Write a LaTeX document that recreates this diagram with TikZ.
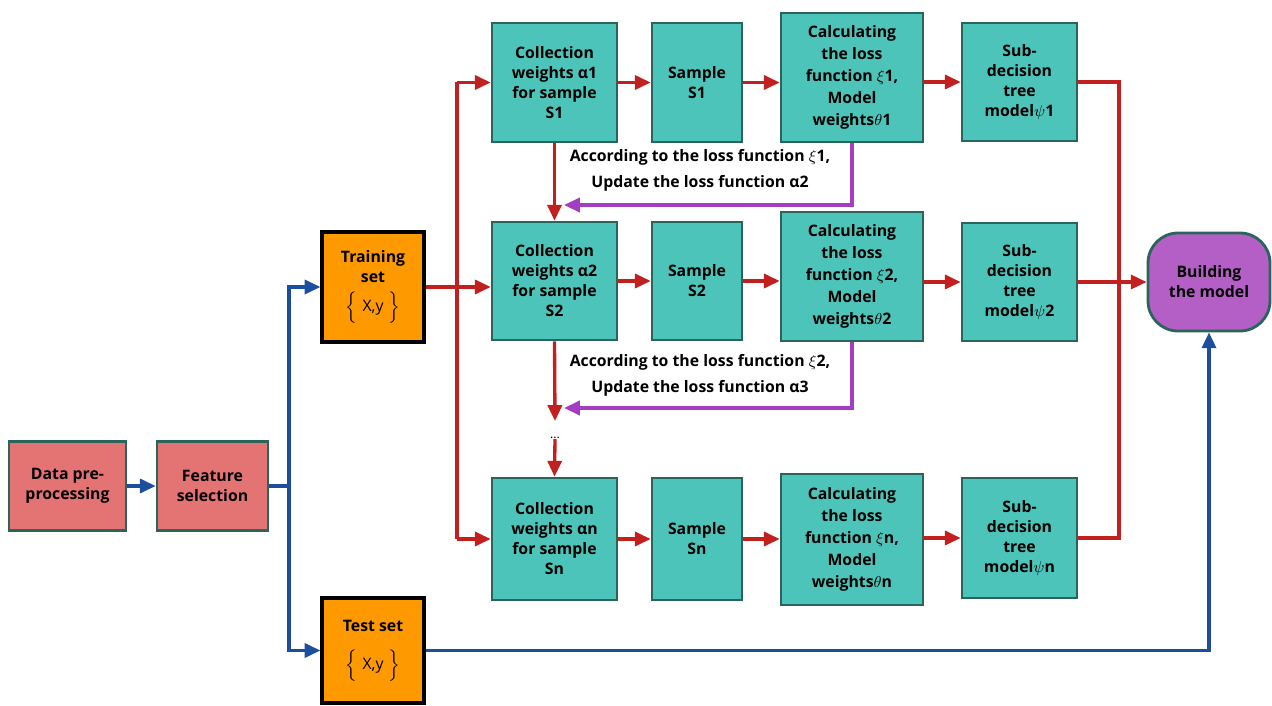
\documentclass[tikz,border=0pt]{standalone}
\usepackage{fontspec}
\setmainfont{Open Sans}
\usetikzlibrary{arrows.meta}
\definecolor{boxteal}{RGB}{77,196,185}
\definecolor{edgeteal}{RGB}{42,100,90}
\definecolor{boxpink}{RGB}{228,116,116}
\definecolor{boxorange}{RGB}{255,153,0}
\definecolor{boxpurple}{RGB}{180,95,198}
\definecolor{linered}{RGB}{194,31,31}
\definecolor{lineblue}{RGB}{28,78,160}
\definecolor{linepurple}{RGB}{164,60,196}
\begin{document}
\begin{tikzpicture}[x=0.02cm,y=-0.02cm,
    font=\fontsize{9}{11.4}\selectfont\bfseries,
    every node/.style={align=center,inner sep=0pt},
    stage/.style={draw=edgeteal,fill=boxteal,line width=1.5pt},
    prep/.style={draw=edgeteal,fill=boxpink,line width=1.5pt},
    dataset/.style={draw=black,fill=boxorange,line width=1.8pt},
    final/.style={draw=edgeteal,fill=boxpurple,line width=1.6pt,rounded corners=0.6cm},
    redline/.style={draw=linered,line width=1.9pt},
    redarr/.style={redline,-{Triangle[length=9pt,width=8pt]}},
    blueline/.style={draw=lineblue,line width=1.9pt},
    bluearr/.style={blueline,-{Triangle[length=9pt,width=8pt]}},
    purparr/.style={draw=linepurple,line width=1.9pt,-{Triangle[length=9pt,width=8pt]}}]
    \useasboundingbox (0,0) rectangle (1272,706);

    \node[prep,minimum width=2.34cm,minimum height=1.78cm] (data) at (67.5,486) {Data pre-\\processing};
    \node[prep,minimum width=2.22cm,minimum height=1.78cm] (feat) at (212.5,486) {Feature\\selection};
    \node[dataset,minimum width=2.04cm,minimum height=2.2cm] (train) at (373,287) {Training\\set\\[4pt]{\mdseries$\Big\{$\,\,X,y\,\,$\Big\}$}};
    \node[dataset,minimum width=2.04cm,minimum height=2.1cm] (test) at (373,650.5) {Test set\\[9pt]{\mdseries$\Big\{$\,\,X,y\,\,$\Big\}$}};

    \node[stage,minimum width=2.5cm,minimum height=2.38cm] (c1) at (554.5,82.5) {Collection\\weights α1\\for sample\\S1};
    \node[stage,minimum width=1.8cm,minimum height=2.38cm] (s1) at (697,82.5) {Sample\\S1};
    \node[stage,minimum width=2.84cm,minimum height=2.58cm,font=\fontsize{9}{12.6}\selectfont\bfseries] (l1) at (852,77.5) {Calculating\\the loss\\function $\xi$1,\\Model\\weights$\theta$1};
    \node[stage,minimum width=2.3cm,minimum height=2.36cm] (t1) at (1019.5,82) {Sub-\\decision\\tree\\model$\psi$1};

    \node[stage,minimum width=2.5cm,minimum height=2.36cm] (c2) at (554.5,281) {Collection\\weights α2\\for sample\\S2};
    \node[stage,minimum width=1.8cm,minimum height=2.36cm] (s2) at (697,281) {Sample\\S2};
    \node[stage,minimum width=2.84cm,minimum height=2.58cm,font=\fontsize{9}{12.6}\selectfont\bfseries] (l2) at (852,276.5) {Calculating\\the loss\\function $\xi$2,\\Model\\weights$\theta$2};
    \node[stage,minimum width=2.3cm,minimum height=2.36cm] (t2) at (1019.5,282) {Sub-\\decision\\tree\\model$\psi$2};

    \node[stage,minimum width=2.5cm,minimum height=2.44cm] (cn) at (554.5,539) {Collection\\weights αn\\for sample\\Sn};
    \node[stage,minimum width=1.8cm,minimum height=2.44cm] (sn) at (697,539) {Sample\\Sn};
    \node[stage,minimum width=2.84cm,minimum height=2.62cm,font=\fontsize{9}{12.6}\selectfont\bfseries] (ln) at (852,539.5) {Calculating\\the loss\\function $\xi$n,\\Model\\weights$\theta$n};
    \node[stage,minimum width=2.3cm,minimum height=2.4cm] (tn) at (1019.5,538) {Sub-\\decision\\tree\\model$\psi$n};

    \node[final,minimum width=2.44cm,minimum height=1.96cm] (bm) at (1209,282) {Building\\the model};

    \node[font=\fontsize{9}{14.8}\selectfont\bfseries] (a1) at (700,170) {According to the loss function $\xi$1,\\Update the loss function α2};
    \node[font=\fontsize{9}{14.8}\selectfont\bfseries] (a2) at (700,375) {According to the loss function $\xi$2,\\Update the loss function α3};
    \node[font=\scriptsize] (dots) at (555,438) {...};

    \coordinate (jb) at (289,486);
    \coordinate (rt) at (457,287);
    \coordinate (rr) at (1119,282);
    \coordinate (p1) at (564,205);
    \coordinate (p2) at (564,408);
    \coordinate (d2) at (555,421);

    \draw[bluearr] (data) -- (feat);
    \draw[blueline] (feat.east) -- (jb);
    \draw[bluearr] (jb) |- (train.west);
    \draw[bluearr] (jb) |- (test.west);
    \draw[bluearr] (test.east) -| (bm.south);

    \draw[redarr] (train.east) -- (train.east -| c2.west);
    \draw[redline] (rt |- c1.west) -- (rt |- cn.west);
    \draw[redarr] (rt |- c1.west) -- (c1.west);
    \draw[redarr] (rt |- cn.west) -- (cn.west);

    \draw[redarr] (c1.east) -- (c1.east -| s1.west);
    \draw[redarr] (s1.east) -- (s1.east -| l1.west);
    \draw[redarr] (l1.east |- t1.west) -- (t1.west);
    \draw[redarr] (c2.east) -- (c2.east -| s2.west);
    \draw[redarr] (s2.east) -- (s2.east -| l2.west);
    \draw[redarr] (l2.east |- t2.west) -- (t2.west);
    \draw[redarr] (cn.east) -- (cn.east -| sn.west);
    \draw[redarr] (sn.east) -- (sn.east -| ln.west);
    \draw[redarr] (ln.east |- tn.west) -- (tn.west);

    \draw[redline] (t1.east) -| (rr);
    \draw[redline] (tn.east) -| (rr);
    \draw[redarr] (t2.east) -- (bm.west);

    \draw[redarr] (c1.south) -- (c2.north);
    \draw[redarr] (c2.south) -- (d2);
    \draw[redarr] (dots.south) -- (cn.north);
    \draw[purparr] (l1.south) |- (p1);
    \draw[purparr] (l2.south) |- (p2);
\end{tikzpicture}
\end{document}
